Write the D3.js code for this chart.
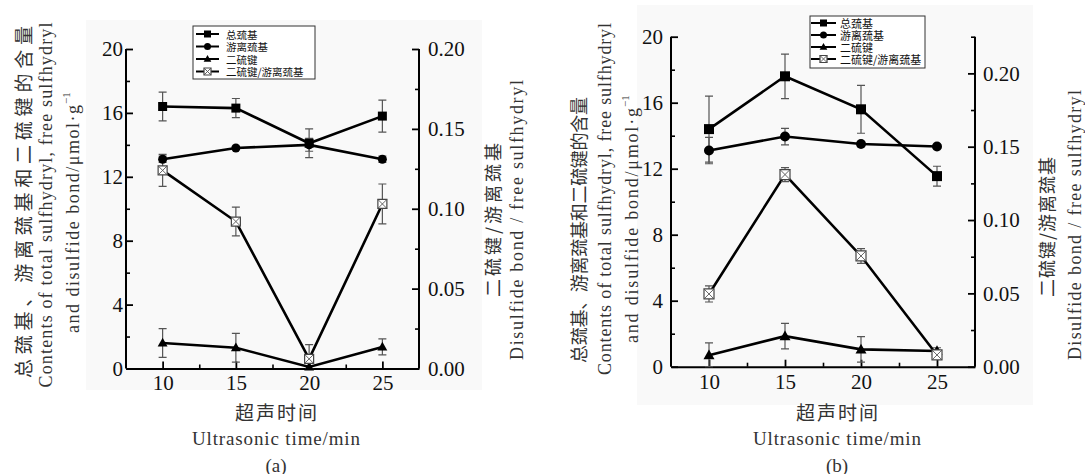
<!DOCTYPE html>
<html>
<head>
<meta charset="utf-8">
<script src="https://cdn.jsdelivr.net/npm/d3@7"></script>
<style>
  html, body { margin: 0; padding: 0; background: #fff; }
  svg { display: block; }
</style>
</head>
<body>
<svg id="chart" width="1085" height="474"></svg>
<script>
// ---- data ----
const times = [10, 15, 20, 25];
const xTicks = [10, 15, 20, 25];
const xMinor = [12.5, 17.5, 22.5];
const leftTicks = [0, 4, 8, 12, 16, 20];
const leftMinor = [2, 6, 10, 14, 18];
const rightTicks = [0, 0.05, 0.10, 0.15, 0.20];
const rightMinorA = [0.025, 0.075, 0.125, 0.175];
const rightMinorB = [0.025, 0.075, 0.125, 0.175, 0.225];
const seriesNames = ['总巯基', '游离巯基', '二硫键', '二硫键/游离巯基'];

// panel (a)
const aTotal = [16.4, 16.3, 14.1, 15.8];
const aTotalErr = [0.9, 0.6, 0.9, 1.0];
const aFree = [13.1, 13.8, 14.0, 13.1];
const aFreeErr = [0.2, 0.1, 0.4, 0.2];
const aSS = [1.6, 1.3, 0.1, 1.35];
const aSSErr = [0.9, 0.9, 0.3, 0.5];
const aRatio = [0.124, 0.092, 0.006, 0.103];
const aRatioErr = [0.010, 0.009, 0.009, 0.0125];

// panel (b)
const bTotal = [14.4, 17.6, 15.6, 11.55];
const bTotalErr = [2.0, 1.35, 1.45, 0.6];
const bFree = [13.1, 13.95, 13.5, 13.35];
const bFreeErr = [0.8, 0.5, 0.1, 0.1];
const bSS = [0.7, 1.85, 1.05, 0.95];
const bSSErr = [0.75, 0.77, 0.77, 0.2];
const bRatio = [0.0496, 0.131, 0.0755, 0.008];
const bRatioErr = [0.0055, 0.0048, 0.005, 0.003];

(function () {
  const SERIF = '"Liberation Serif", "DejaVu Serif", "Times New Roman", serif';
  const CJK = '"Noto Sans CJK SC", "Noto Sans CJK TC", sans-serif';
  const svg = d3.select('#chart');
  const symbols = ['square', 'circle', 'triangle', 'xsquare'];

  function markerPath(kind, s) {
    const h = s / 2;
    if (kind === 'circle') return d3.symbol(d3.symbolCircle, Math.PI * h * h)();
    if (kind === 'triangle') return `M0,${-h * 1.15}L${h * 1.1},${h * 0.8}L${-h * 1.1},${h * 0.8}Z`;
    return `M${-h},${-h}H${h}V${h}H${-h}Z`;
  }

  function drawMarker(g, kind, x, y, s) {
    if (kind === 'xsquare') {
      const h = s / 2;
      g.append('path').attr('d', markerPath(kind, s)).attr('transform', `translate(${x},${y})`)
        .attr('fill', '#fff').attr('stroke', '#444').attr('stroke-width', 1.2);
      g.append('path').attr('d', `M${-h},${-h}L${h},${h}M${h},${-h}L${-h},${h}`)
        .attr('transform', `translate(${x},${y})`).attr('stroke', '#555').attr('stroke-width', 0.9);
      return;
    }
    g.append('path').attr('d', markerPath(kind, s)).attr('transform', `translate(${x},${y})`).attr('fill', '#000');
  }

  function vtext(g, x, y, str, size, len, font, anchor) {
    const t = g.append('text')
      .attr('transform', `translate(${x},${y}) rotate(-90)`)
      .attr('text-anchor', anchor || 'middle')
      .attr('dominant-baseline', 'central')
      .attr('font-size', size)
      .attr('fill', '#333')
      .style('font-family', font || SERIF)
      .text(str);
    if (len) t.attr('textLength', len).attr('lengthAdjust', 'spacing');
    return t;
  }

  function drawPanel(cfg) {
    const g = svg.append('g');
    g.append('rect').attr('x', cfg.bg[0]).attr('y', cfg.bg[1])
      .attr('width', cfg.bg[2] - cfg.bg[0]).attr('height', cfg.bg[3] - cfg.bg[1]).attr('fill', '#f9f9f9');

    const x = d3.scaleLinear().domain([7.5, 27.5]).range([cfg.left, cfg.right]);
    const yL = d3.scaleLinear().domain([0, 20]).range([cfg.bottom, cfg.top]);
    const yR = d3.scaleLinear().domain(cfg.rightDomain).range([cfg.bottom, cfg.top]);

    const styleAxis = sel => {
      sel.select('.domain').attr('stroke', '#000').attr('stroke-width', 2);
      sel.selectAll('.tick line').attr('stroke', '#000').attr('stroke-width', 1.8);
      sel.selectAll('text').attr('font-size', 21).attr('fill', '#111').style('font-family', SERIF);
    };
    const minor = sel => {
      sel.select('.domain').remove();
      sel.selectAll('.tick line').attr('stroke', '#000').attr('stroke-width', 1.6);
    };

    // axes, ticks pointing inward
    g.append('g').attr('transform', `translate(0,${cfg.bottom})`)
      .call(d3.axisBottom(x).tickValues(xMinor).tickSize(-4).tickFormat('')).call(minor);
    g.append('g').attr('transform', `translate(${cfg.left},0)`)
      .call(d3.axisLeft(yL).tickValues(leftMinor).tickSize(-4).tickFormat('')).call(minor);
    g.append('g').attr('transform', `translate(${cfg.right},0)`)
      .call(d3.axisRight(yR).tickValues(cfg.rightMinor).tickSize(-4).tickFormat('')).call(minor);

    g.append('g').attr('transform', `translate(0,${cfg.bottom})`)
      .call(d3.axisBottom(x).tickValues(xTicks).tickSize(-7).tickSizeOuter(0).tickPadding(7).tickFormat(d3.format('d')))
      .call(styleAxis);
    g.append('g').attr('transform', `translate(${cfg.left},0)`)
      .call(d3.axisLeft(yL).tickValues(leftTicks).tickSize(-7).tickSizeOuter(0).tickPadding(cfg.padL).tickFormat(d3.format('d')))
      .call(styleAxis)
      .select('.domain').attr('d', `M0,${cfg.bottom}V${cfg.top}`);
    g.append('g').attr('transform', `translate(${cfg.right},0)`)
      .call(d3.axisRight(yR).tickValues(rightTicks).tickSize(-7).tickSizeOuter(0).tickPadding(cfg.padR).tickFormat(d3.format('.2f')))
      .call(styleAxis)
      .select('.domain').attr('d', `M0,${cfg.bottom}V${cfg.top}`);

    // series
    const rows = cfg.series.map((s, i) => ({
      kind: symbols[i],
      y: i === 3 ? yR : yL,
      pts: times.map((t, j) => ({ t, v: s.values[j], e: s.err[j] }))
    }));
    const line = d3.line();
    rows.forEach(r => {
      g.append('path')
        .attr('d', line(r.pts.map(p => [x(p.t), r.y(p.v)])))
        .attr('fill', 'none').attr('stroke', '#000').attr('stroke-width', 2.6);
    });
    rows.forEach(r => {
      r.pts.forEach(p => {
        const cx = x(p.t), y1 = r.y(p.v + p.e), y2 = r.y(Math.max(p.v - p.e, r.y.domain()[0]));
        g.append('path')
          .attr('d', `M${cx},${y1}V${y2}M${cx - 4},${y1}H${cx + 4}M${cx - 4},${y2}H${cx + 4}`)
          .attr('stroke', '#555').attr('stroke-width', 1.2).attr('fill', 'none');
      });
    });
    rows.forEach(r => {
      r.pts.forEach(p => drawMarker(g, r.kind, x(p.t), r.y(p.v), cfg.markerSize));
    });

    // legend
    const L = cfg.legend;
    g.append('rect').attr('x', L.x0).attr('y', L.y0).attr('width', L.x1 - L.x0).attr('height', L.y1 - L.y0)
      .attr('fill', '#fff').attr('stroke', '#333').attr('stroke-width', 1);
    seriesNames.forEach((name, i) => {
      const ly = L.rows[i];
      g.append('line').attr('x1', L.lx0).attr('x2', L.lx1).attr('y1', ly).attr('y2', ly)
        .attr('stroke', '#000').attr('stroke-width', 2);
      drawMarker(g, symbols[i], (L.lx0 + L.lx1) / 2, ly, 7);
      g.append('text').attr('x', L.tx).attr('y', ly)
        .attr('dominant-baseline', 'central').attr('font-size', L.size).attr('fill', '#111')
        .style('font-family', CJK)
        .text(name);
    });

    // titles
    const T = cfg.titles;
    vtext(g, T.l1[0], T.l1[1], '总巯基、游离巯基和二硫键的含量', T.l1[3], T.l1[2], CJK);
    vtext(g, T.l2[0], T.l2[1], 'Contents of total sulfhydryl, free sulfhydryl', 18, T.l2[2]);
    vtext(g, T.l3[0], T.l3[1], 'and disulfide bond/μmol·g', 18, T.l3[2], SERIF, 'start');
    vtext(g, T.l3[0] - 7, T.l3[1] - T.l3[2] - 1, '−1', 11, null, SERIF, 'start');
    vtext(g, T.r1[0], T.r1[1], '二硫键/游离巯基', 18, T.r1[2], CJK);
    vtext(g, T.r2[0], T.r2[1], 'Disulfide bond / free sulfhydryl', 18, T.r2[2]);

    const B = cfg.bottomText;
    g.append('text').attr('x', B.x).attr('y', 411).attr('text-anchor', 'middle')
      .attr('dominant-baseline', 'central').attr('font-size', 19).attr('fill', '#333')
      .style('font-family', CJK)
      .attr('textLength', 82).attr('lengthAdjust', 'spacing').text('超声时间');
    g.append('text').attr('x', B.x).attr('y', 438).attr('text-anchor', 'middle')
      .attr('dominant-baseline', 'central').attr('font-size', 19).attr('fill', '#333')
      .style('font-family', SERIF)
      .attr('textLength', 168).attr('lengthAdjust', 'spacing').text('Ultrasonic time/min');
    g.append('text').attr('x', B.x).attr('y', 465).attr('text-anchor', 'middle')
      .attr('dominant-baseline', 'central').attr('font-size', 19).attr('fill', '#333')
      .style('font-family', SERIF).text(B.label);
  }

  drawPanel({
    left: 126, right: 419, top: 49, bottom: 368.5,
    rightDomain: [0, 0.20], rightMinor: rightMinorA, padL: 3, padR: 9,
    bg: [86, 20, 482, 390], markerSize: 9,
    series: [
      { values: aTotal, err: aTotalErr },
      { values: aFree, err: aFreeErr },
      { values: aSS, err: aSSErr },
      { values: aRatio, err: aRatioErr }
    ],
    legend: { x0: 193, x1: 315, y0: 26, y1: 79, rows: [34, 46.5, 59, 71.5], lx0: 196, lx1: 219, tx: 226, size: 10.5 },
    titles: {
      l1: [22, 202, 352, 19], l2: [46, 205, 365], l3: [73, 333, 228],
      r1: [492, 220, 154], r2: [517, 220, 280]
    },
    bottomText: { x: 276, label: '(a)' }
  });

  drawPanel({
    left: 671, right: 975, top: 36.7, bottom: 366.7,
    rightDomain: [0, 0.225], rightMinor: rightMinorB, padL: 8, padR: 8,
    bg: [637, 5, 1033, 405], markerSize: 10,
    series: [
      { values: bTotal, err: bTotalErr },
      { values: bFree, err: bFreeErr },
      { values: bSS, err: bSSErr },
      { values: bRatio, err: bRatioErr }
    ],
    legend: { x0: 810, x1: 925, y0: 16, y1: 68, rows: [23, 35, 47, 59], lx0: 811, lx1: 836, tx: 840, size: 11 },
    titles: {
      l1: [578, 230, 266, 18], l2: [605, 199, 352], l3: [632, 343, 235],
      r1: [1046, 227, 140], r2: [1075, 225, 270]
    },
    bottomText: { x: 837, label: '(b)' }
  });
})();
</script>
</body>
</html>
